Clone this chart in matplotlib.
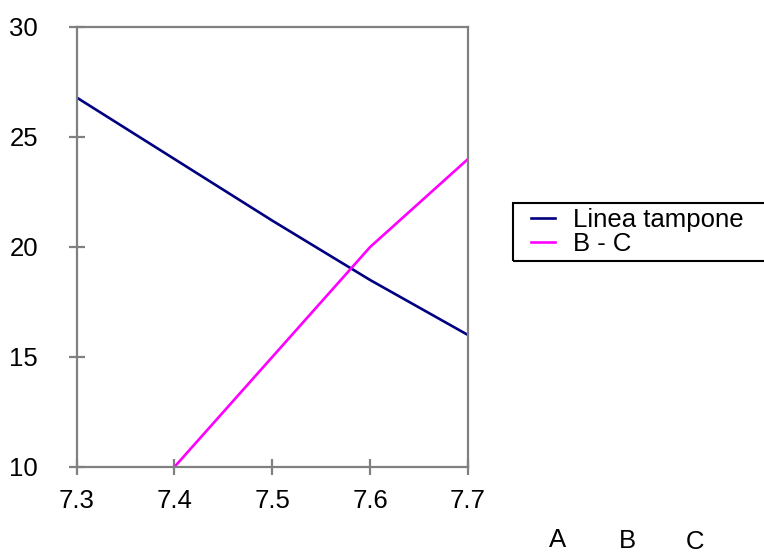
import matplotlib
matplotlib.use("Agg")
import matplotlib.pyplot as plt
from matplotlib.patches import Rectangle

plt.rcParams['font.family'] = ['Liberation Sans', 'DejaVu Sans']

# pH values on the x axis
ph = [7.3, 7.4, 7.5, 7.6, 7.7]
# buffer line
linea_tampone = [26.8, 24.0, 21.2, 18.5, 16.0]
# B - C series (starts at 7.4)
ph_bc = [7.4, 7.5, 7.6, 7.7]
b_minus_c = [10.0, 15.0, 20.0, 24.0]

series_labels = ["Linea tampone", "B - C"]
x_ticks = [7.3, 7.4, 7.5, 7.6, 7.7]
y_ticks = [10, 15, 20, 25, 30]
corner_labels = ["A", "B", "C"]

FS = 18.5
W, H = 764, 554
fig = plt.figure(figsize=(W / 100, H / 100), dpi=100)
ax = fig.add_axes([76.5 / W, 1 - 467 / H, (468 - 76.5) / W, (467 - 27) / H])

ax.plot(ph, linea_tampone, color="#000080", lw=1.9, label=series_labels[0])
ax.plot(ph_bc, b_minus_c, color="#FF00FF", lw=1.9, label=series_labels[1])

ax.set_xlim(7.3, 7.7)
ax.set_ylim(10, 30)
ax.set_xticks(x_ticks)
ax.set_xticklabels([f"{v:.1f}" for v in x_ticks])
ax.set_yticks(y_ticks)
ax.set_yticklabels([str(v) for v in y_ticks])

for sp in ax.spines.values():
    sp.set_color("#808080")
    sp.set_linewidth(1.6)

ax.tick_params(axis="both", direction="inout", length=11.5, width=1.6,
               color="#808080", labelsize=FS, labelcolor="black")
ax.tick_params(axis="y", pad=22)
ax.tick_params(axis="x", pad=10)

# legend
handles, labels = ax.get_legend_handles_labels()
fig.legend(handles, labels, loc="center left",
           bbox_to_anchor=(531 / W, 1 - 232 / H), bbox_transform=fig.transFigure,
           frameon=False, fontsize=FS, borderpad=0, borderaxespad=0,
           handlelength=0.93, handletextpad=0.7, labelspacing=0.02)
fig.add_artist(Rectangle((513 / W, 1 - 261 / H), 0.5, 58 / H,
                         transform=fig.transFigure, fill=False,
                         edgecolor="black", linewidth=1.5, clip_on=False))

# column letters below the legend
for lab, (px, py) in zip(corner_labels, [(558, 540), (627, 541), (695, 542)]):
    fig.text(px / W, 1 - py / H, lab, ha="center", va="center", fontsize=FS)

fig.savefig("out.png", dpi=100)
